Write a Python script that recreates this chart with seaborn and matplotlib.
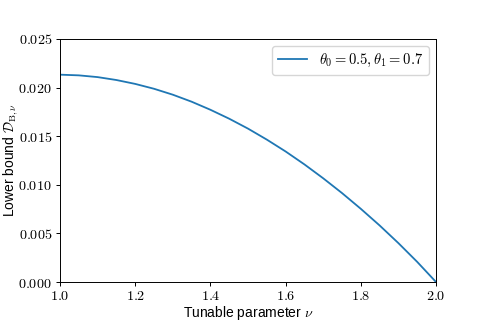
import matplotlib
matplotlib.use("Agg")
import matplotlib.pyplot as plt
import seaborn as sns
import pandas as pd

nu = [1.00, 1.05, 1.10, 1.15, 1.20, 1.25, 1.30, 1.35, 1.40, 1.45, 1.50,
      1.55, 1.60, 1.65, 1.70, 1.75, 1.80, 1.85, 1.90, 1.95, 2.00]
bound = [0.02133, 0.02126, 0.02108, 0.02078, 0.02038, 0.01988, 0.01927,
         0.01855, 0.01772, 0.01680, 0.01578, 0.01465, 0.01343, 0.01210,
         0.01067, 0.00915, 0.00753, 0.00582, 0.00400, 0.00207, 0.00000]
xticks = [1.0, 1.2, 1.4, 1.6, 1.8, 2.0]
yticks = [0.000, 0.005, 0.010, 0.015, 0.020, 0.025]
series_label = r"$\theta_0 = 0.5, \theta_1 = 0.7$"

plt.rcParams["mathtext.fontset"] = "cm"
plt.rcParams["font.family"] = ["Liberation Sans", "DejaVu Sans"]

df = pd.DataFrame({"nu": nu, "bound": bound})

fig = plt.figure(figsize=(4.85, 3.23), dpi=100)
ax = fig.add_axes([60 / 485, 1 - 282 / 323, 376 / 485, 243 / 323])
sns.lineplot(data=df, x="nu", y="bound", ax=ax, color="#1f77b4",
             linewidth=1.3, label=series_label)

ax.set_xlim(1.0, 2.0)
ax.set_ylim(0.0, 0.025)
ax.set_xticks(xticks)
ax.set_yticks(yticks)
ax.set_xticklabels([f"${t:.1f}$" for t in xticks], fontsize=10.2)
ax.set_yticklabels([f"${t:.3f}$" for t in yticks], fontsize=10.2)
ax.tick_params(length=2.7, width=0.7, pad=3.0)
ax.tick_params(axis="x", pad=2.2)
for s in ax.spines.values():
    s.set_linewidth(0.7)
ax.set_xlabel(r"Tunable parameter $\nu$", fontsize=10)
ax.set_ylabel(r"Lower bound $\mathcal{D}_{\mathrm{B},\nu}$", fontsize=10)
ax.xaxis.set_label_coords(0.5, (282 - 304) / 243)
ax.yaxis.set_label_coords((20 - 60) / 376, 0.5)
ax.legend(loc="upper right", fontsize=10.5, borderaxespad=0.5)

fig.savefig("out.png", dpi=100)
